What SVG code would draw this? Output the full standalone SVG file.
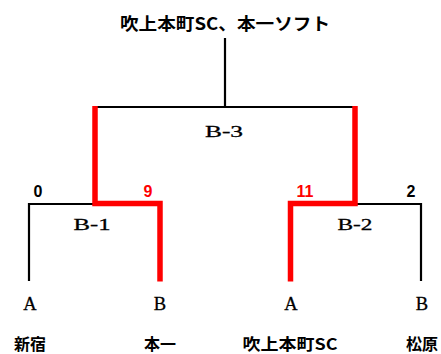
<svg xmlns="http://www.w3.org/2000/svg" width="441" height="354" viewBox="0 0 441 354">
<style>
.blk{fill:none;stroke:#000;stroke-width:2.2}
.red{fill:none;stroke:#f00;stroke-width:5.5;stroke-linejoin:miter}
.jp{font-family:"Noto Sans CJK JP","Liberation Sans",sans-serif;font-weight:bold;font-size:16px;fill:#000}
.lbl{font-family:"Liberation Serif","Noto Sans CJK JP",serif;font-size:17px;fill:#000;stroke:#000;stroke-width:0.3}
.ab{font-size:18.5px}
.num{font-family:"Liberation Sans",sans-serif;font-weight:bold;font-size:16px}
</style>
<rect width="441" height="354" fill="#fff"/>
<g id="connectors">
<path class="blk" d="M225,38 V107 M95,107 H355"/>
<path class="blk" d="M29,281 V204 H95"/>
<path class="blk" d="M355,204 H421 V281"/>
<path class="red" d="M95,106 V203.5 H160 V281.5"/>
<path class="red" d="M355,106 V203.5 H290.5 V281.5"/>
</g>
<g id="winner"><text class="jp" x="120" y="30" textLength="210" lengthAdjust="spacingAndGlyphs" style="font-size:17.5px">吹上本町SC、本一ソフト</text></g>
<g id="B-3"><text class="lbl" x="224" y="137" text-anchor="middle" textLength="38" lengthAdjust="spacingAndGlyphs">B-3</text></g>
<g id="B-1">
<text class="lbl" x="92" y="230" text-anchor="middle" textLength="37" lengthAdjust="spacingAndGlyphs">B-1</text>
<text class="num" x="38" y="197" text-anchor="middle" fill="#000">0</text>
<text class="num" x="148" y="197" text-anchor="middle" fill="#f00">9</text>
</g>
<g id="B-2">
<text class="lbl" x="355" y="230" text-anchor="middle" textLength="35" lengthAdjust="spacingAndGlyphs">B-2</text>
<text class="num" x="305" y="197" text-anchor="middle" fill="#f00">11</text>
<text class="num" x="411" y="197" text-anchor="middle" fill="#000">2</text>
</g>
<g id="team-shinjuku">
<text class="lbl ab" x="30" y="310" text-anchor="middle">A</text>
<text class="jp" x="30" y="350" text-anchor="middle">新宿</text>
</g>
<g id="team-honichi">
<text class="lbl ab" x="160" y="310" text-anchor="middle">B</text>
<text class="jp" x="160" y="350" text-anchor="middle">本一</text>
</g>
<g id="team-fukiage">
<text class="lbl ab" x="291" y="310" text-anchor="middle">A</text>
<text class="jp" x="290" y="350" text-anchor="middle" textLength="95" lengthAdjust="spacingAndGlyphs">吹上本町SC</text>
</g>
<g id="team-matsubara">
<text class="lbl ab" x="422" y="310" text-anchor="middle">B</text>
<text class="jp" x="422" y="350" text-anchor="middle">松原</text>
</g>
</svg>
